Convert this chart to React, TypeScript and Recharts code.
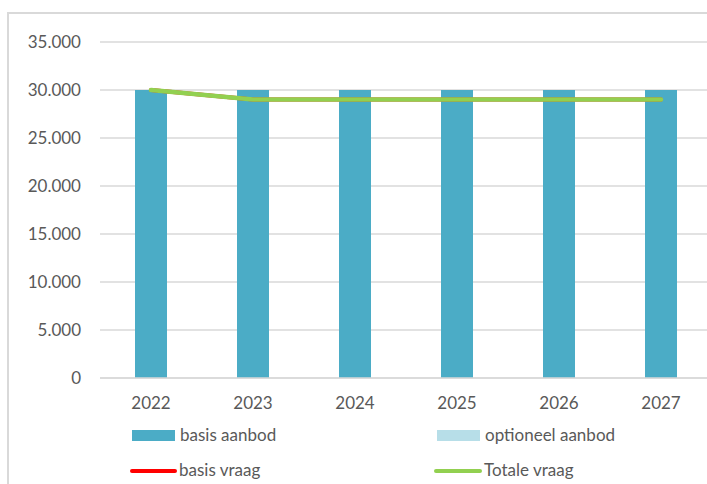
import React from "react";
import {
  ComposedChart,
  Bar,
  Line,
  XAxis,
  YAxis,
  CartesianGrid,
  Legend,
} from "recharts";

const years = ["2022", "2023", "2024", "2025", "2026", "2027"];
const basisAanbod = [30000, 30000, 30000, 30000, 30000, 30000];
const optioneelAanbod = [0, 0, 0, 0, 0, 0];
const basisVraag = [30000, 29000, 29000, 29000, 29000, 29000];
const totaleVraag = [30000, 29000, 29000, 29000, 29000, 29000];
const yTicks = [0, 5000, 10000, 15000, 20000, 25000, 30000, 35000];

const seriesNames = {
  basisAanbod: "basis aanbod",
  optioneelAanbod: "optioneel aanbod",
  basisVraag: "basis vraag",
  totaleVraag: "Totale vraag",
};

const colors = {
  basisAanbod: "#4BACC6",
  optioneelAanbod: "#B7DEE8",
  basisVraag: "#FF0000",
  totaleVraag: "#92D050",
};

const data = years.map((y, i) => ({
  year: y,
  basisAanbod: basisAanbod[i],
  optioneelAanbod: optioneelAanbod[i],
  basisVraag: basisVraag[i],
  totaleVraag: totaleVraag[i],
}));

const fmt = (v: number) =>
  String(v).replace(/\B(?=(\d{3})+(?!\d))/g, ".");

const FONT = "Lato, 'Open Sans', sans-serif";
const TEXT = "#595959";

const LegendContent = () => {
  const textStyle: React.CSSProperties = {
    position: "absolute",
    fontFamily: FONT,
    fontSize: 17,
    color: TEXT,
    lineHeight: "20px",
    whiteSpace: "nowrap",
  };
  return (
    <div style={{ position: "relative", width: 707, height: 64 }}>
      <div
        style={{
          position: "absolute",
          left: 132,
          top: 10,
          width: 43,
          height: 11,
          background: colors.basisAanbod,
        }}
      />
      <div style={{ ...textStyle, left: 180, top: 5 }}>{seriesNames.basisAanbod}</div>
      <div
        style={{
          position: "absolute",
          left: 437,
          top: 10,
          width: 43,
          height: 11,
          background: colors.optioneelAanbod,
        }}
      />
      <div style={{ ...textStyle, left: 485, top: 5 }}>{seriesNames.optioneelAanbod}</div>
      <div
        style={{
          position: "absolute",
          left: 130,
          top: 49,
          width: 47,
          height: 4,
          borderRadius: 2,
          background: colors.basisVraag,
        }}
      />
      <div style={{ ...textStyle, left: 179, top: 40 }}>{seriesNames.basisVraag}</div>
      <div
        style={{
          position: "absolute",
          left: 434,
          top: 49,
          width: 48,
          height: 4,
          borderRadius: 2,
          background: colors.totaleVraag,
        }}
      />
      <div style={{ ...textStyle, left: 484, top: 40 }}>{seriesNames.totaleVraag}</div>
    </div>
  );
};

export default function App() {
  return (
    <div
      style={{
        position: "absolute",
        left: 0,
        top: 0,
        width: 707,
        height: 484,
        overflow: "hidden",
        background: "#fff",
      }}
    >
      <div
        style={{
          position: "absolute",
          left: 7,
          top: 12,
          width: 760,
          height: 520,
          borderLeft: "2px solid #D9D9D9",
          borderTop: "2px solid #D9D9D9",
          boxSizing: "border-box",
        }}
      />
      <div style={{ position: "absolute", left: 0, top: 0 }}>
        <ComposedChart
          width={720}
          height={484}
          data={data}
          margin={{ top: 42, right: 8, bottom: 76, left: 0 }}
        >
          <CartesianGrid
            vertical={false}
            stroke="#D9D9D9"
            strokeWidth={1.5}
          />
          <XAxis
            dataKey="year"
            axisLine={{ stroke: "#D9D9D9", strokeWidth: 1.5 }}
            tickLine={false}
            tickSize={0}
            tickMargin={19}
            height={30}
            interval={0}
            tick={{ fill: TEXT, fontSize: 17, fontFamily: FONT }}
          />
          <YAxis
            width={100}
            domain={[0, 35000]}
            ticks={yTicks}
            interval={0}
            axisLine={false}
            tickLine={false}
            tickSize={0}
            tickMargin={19}
            tickFormatter={fmt}
            tick={{ fill: TEXT, fontSize: 17, fontFamily: FONT }}
          />
          <Bar
            dataKey="basisAanbod"
            name={seriesNames.basisAanbod}
            stackId="a"
            fill={colors.basisAanbod}
            barSize={32}
            isAnimationActive={false}
          />
          <Bar
            dataKey="optioneelAanbod"
            name={seriesNames.optioneelAanbod}
            stackId="a"
            fill={colors.optioneelAanbod}
            barSize={32}
            isAnimationActive={false}
          />
          <Line
            dataKey="basisVraag"
            name={seriesNames.basisVraag}
            stroke={colors.basisVraag}
            strokeWidth={4}
            dot={false}
            strokeLinecap="round"
            isAnimationActive={false}
          />
          <Line
            dataKey="totaleVraag"
            name={seriesNames.totaleVraag}
            stroke={colors.totaleVraag}
            strokeWidth={4.5}
            dot={false}
            strokeLinecap="round"
            isAnimationActive={false}
          />
          <Legend
            layout="vertical"
            verticalAlign="middle"
            align="center"
            content={<LegendContent />}
            wrapperStyle={{ top: 420, left: 0, width: 707, height: 64 }}
          />
        </ComposedChart>
      </div>
    </div>
  );
}
